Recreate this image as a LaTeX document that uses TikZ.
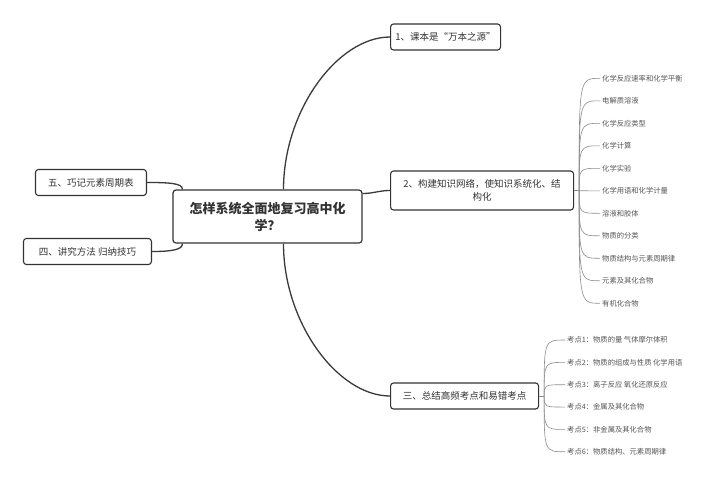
\documentclass[tikz,border=0pt]{standalone}
\usepackage{fontspec}
\setmainfont{Noto Sans CJK SC}
\usetikzlibrary{calc}

\definecolor{ink}{HTML}{333333}
\definecolor{leafink}{HTML}{555555}
\definecolor{wire}{HTML}{3A3A3A}
\definecolor{thinwire}{HTML}{8C8C8C}

\begin{document}
\begin{tikzpicture}
[
	x=1pt,y=-1pt,
	topic/.style={draw=ink,line width=1.2pt,rounded corners=3pt,fill=white,text=ink,font=\fontsize{13}{17}\selectfont\bfseries,align=center,minimum width=189pt,minimum height=53pt,inner sep=0pt},
	branch/.style={draw=ink,line width=1.1pt,rounded corners=3pt,fill=white,text=ink,font=\fontsize{9.5}{13}\selectfont,align=center,inner xsep=2pt,minimum height=26pt},
	leaf/.style={text=leafink,font=\fontsize{7.3}{9}\selectfont,anchor=west,inner sep=2pt},
	mainline/.style={wire,line width=1.3pt},
	leafline/.style={thinwire,line width=0.6pt}
]

	% canvas
	\useasboundingbox (0,0) rectangle (720,485);
	\fill[white] (0,0) rectangle (720,485);

	% central topic
	\node[topic] (main) at (267.5,216.5) {怎样系统全面地复习高中化\\学？};

	% main branches
	\node[branch,anchor=west,minimum width=110pt] (b1) at (390,37) {1、课本是“万本之源”};
	\node[branch,anchor=west,minimum width=183pt,minimum height=39pt] (b2) at (390,190.5) {2、构建知识网络，使知识系统化、结\\构化};
	\node[branch,anchor=west,minimum width=148pt] (b3) at (390,396) {三、总结高频考点和易错考点};
	\node[branch,anchor=east,minimum width=111pt] (b5) at (147,182.5) {五、巧记元素周期表};
	\node[branch,anchor=east,minimum width=128pt] (b4) at (152,251.5) {四、讲究方法 归纳技巧};

	% main connectors
	\draw[mainline] ([xshift=16pt]main.north) .. controls (283.5,110) and (338,37) .. (b1.west);
	\draw[mainline] ([yshift=23pt]main.east) to[out=0,in=180] (b2.west);
	\draw[mainline] ([xshift=16pt]main.south) .. controls (283.5,323) and (338,396) .. (b3.west);
	\draw[mainline] (b5.east) .. controls (168,182.5) and (183,183) .. ([xshift=10pt]main.north west);
	\draw[mainline] (b4.east) .. controls (170,251.5) and (183,250) .. ([xshift=10pt]main.south west);

	% leaves of branch 2
	\coordinate (hub2) at ($(b2.east)+(5,0)$);
	\draw[leafline] (b2.east) -- (hub2);
	\foreach \txt [count=\i] in {化学反应速率和化学平衡,电解质溶液,化学反应类型,化学计算,化学实验,化学用语和化学计量,溶液和胶体,物质的分类,物质结构与元素周期律,元素及其化合物,有机化合物} {
		\node[leaf] (k\i) at (600,{78.3+22.5*(\i-1)}) {\txt};
		\draw[leafline] (hub2) .. controls (hub2 |- k\i.west) .. (k\i.west);
	}

	% leaves of branch 3
	\coordinate (hub3) at ($(b3.east)+(5,0)$);
	\draw[leafline] (b3.east) -- (hub3);
	\foreach \txt [count=\i] in {考点1：物质的量 气体摩尔体积,考点2：物质的组成与性质 化学用语,考点3：离子反应 氧化还原反应,考点4：金属及其化合物,考点5：非金属及其化合物,考点6：物质结构、元素周期律} {
		\node[leaf] (p\i) at (565,{340+22.35*(\i-1)}) {\txt};
		\draw[leafline] (hub3) .. controls (hub3 |- p\i.west) .. (p\i.west);
	}

\end{tikzpicture}
\end{document}
